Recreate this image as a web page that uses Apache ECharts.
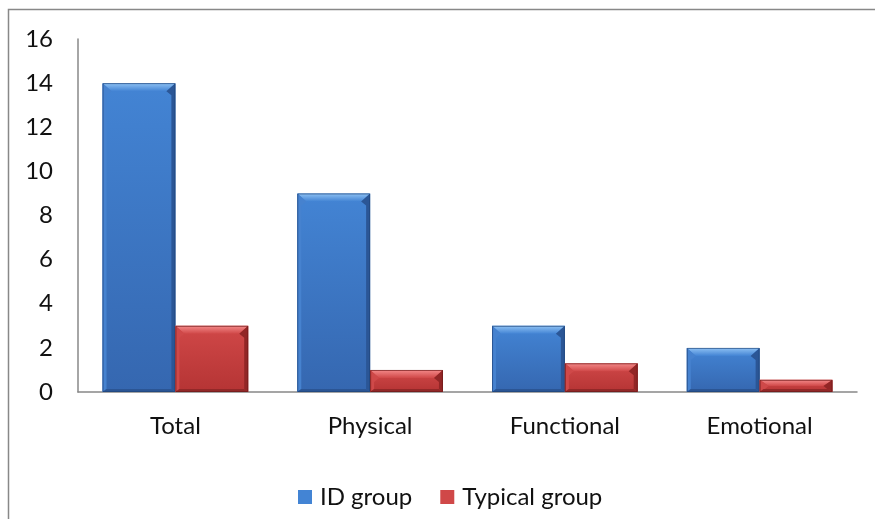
<!DOCTYPE html>
<html>
<head>
<meta charset="utf-8">
<script src="https://cdn.jsdelivr.net/npm/echarts@6/dist/echarts.min.js"></script>
<style>
  html, body { margin: 0; padding: 0; background: #fff; }
  #chart { width: 875px; height: 519px; }
</style>
</head>
<body>
<div id="chart"></div>
<script>
// Categories and values for each group
var categories = ['Total', 'Physical', 'Functional', 'Emotional'];
var idGroup = [14, 9, 3, 2];
var typicalGroup = [3, 1, 1.3, 0.55];
var yTicks = [0, 2, 4, 6, 8, 10, 12, 14, 16];

var FONT = 'Lato';
var TEXT_SIZE = 24;

// Bevelled bar palette: body, light top facet, side and bottom shades
var palettes = [
  { body: '#3567b0', light: '#4384d4', top: '#8fc2f4', left: '#4682cf', right: '#2b5696', bottom: '#2b5594', edge: '#1f447a' },
  { body: '#b53434', light: '#d04848', top: '#f48a8a', left: '#cf4949', right: '#922626', bottom: '#922828', edge: '#6e1a1a' }
];

function bevelBar(seriesIndex) {
  return function (params, api) {
    var catIdx = api.value(0);
    var val = api.value(1);
    var center = api.coord([catIdx, 0]);
    var topPt = api.coord([catIdx, val]);
    var band = api.size([1, 0])[0];
    var w = band * 0.374;
    var x0 = seriesIndex === 0 ? center[0] - w : center[0];
    var x1 = x0 + w;
    var y0 = topPt[1];
    var y1 = center[1];
    var h = y1 - y0;
    var p = palettes[seriesIndex];
    var bx = Math.min(9, w / 2);
    var by = Math.min(8, h / 2);
    var bb = Math.min(3, h / 4);
    var sx = Math.min(4, w / 4);
    return {
      type: 'group',
      children: [
        { type: 'rect', shape: { x: x0, y: y0, width: w, height: h },
          style: { fill: new echarts.graphic.LinearGradient(0, 0, 0, 1, [
            { offset: 0, color: p.light }, { offset: 1, color: p.body }
          ]) } },
        // top facet
        { type: 'polygon', shape: { points: [[x0, y0], [x1, y0], [x1 - bx, y0 + by], [x0 + bx, y0 + by]] },
          style: { fill: new echarts.graphic.LinearGradient(0, 0, 0, 1, [
            { offset: 0, color: p.top }, { offset: 1, color: p.light }
          ]) } },
        // left facet
        { type: 'polygon', shape: { points: [[x0, y0], [x0 + bx, y0 + by], [x0 + sx, y0 + by + 4], [x0 + sx, y1 - bb], [x0, y1]] },
          style: { fill: p.left } },
        // right facet
        { type: 'polygon', shape: { points: [[x1, y0], [x1, y1], [x1 - sx, y1 - bb], [x1 - sx, y0 + by + 4], [x1 - bx, y0 + by]] },
          style: { fill: p.right } },
        // bottom facet
        { type: 'polygon', shape: { points: [[x0, y1], [x0 + sx, y1 - bb], [x1 - sx, y1 - bb], [x1, y1]] },
          style: { fill: p.bottom } },
        // outline
        { type: 'rect', shape: { x: x0 + 0.5, y: y0 + 0.5, width: w - 1, height: h - 1 },
          style: { fill: 'none', stroke: p.edge, lineWidth: 1, opacity: 0.7 } }
      ]
    };
  };
}

function seriesData(values) {
  return values.map(function (v, i) { return [i, v]; });
}

var chart = echarts.init(document.getElementById('chart'), null, { renderer: 'canvas' });
chart.setOption({
  animation: false,
  backgroundColor: '#ffffff',
  textStyle: { fontFamily: FONT },
  graphic: [{
    type: 'rect', z: -10,
    shape: { x: 8.5, y: 9.5, width: 1000, height: 1000 },
    style: { fill: 'none', stroke: '#888888', lineWidth: 1.5 }
  }],
  grid: { left: 78, right: 18, top: 39, bottom: 127, containLabel: false },
  legend: {
    top: 480, left: 293,
    itemWidth: 14, itemHeight: 14, itemGap: 28,
    icon: 'rect',
    textStyle: { fontFamily: FONT, fontSize: TEXT_SIZE, color: '#111', padding: [0, 0, 0, 3] },
    data: ['ID group', 'Typical group']
  },
  xAxis: {
    type: 'category',
    data: categories,
    axisLine: { show: true, lineStyle: { color: '#888888', width: 1.5 } },
    axisTick: { show: false },
    axisLabel: { fontFamily: FONT, fontSize: TEXT_SIZE, color: '#111', margin: 22 }
  },
  yAxis: {
    type: 'value',
    min: yTicks[0], max: yTicks[yTicks.length - 1], interval: 2,
    axisLine: { show: true, lineStyle: { color: '#888888', width: 1.5 } },
    axisTick: { show: false },
    splitLine: { show: false },
    axisLabel: { fontFamily: FONT, fontSize: TEXT_SIZE, color: '#111', margin: 25 }
  },
  series: [
    { name: 'ID group', type: 'custom', renderItem: bevelBar(0),
      itemStyle: { color: palettes[0].light },
      encode: { x: 0, y: 1 }, data: seriesData(idGroup) },
    { name: 'Typical group', type: 'custom', renderItem: bevelBar(1),
      itemStyle: { color: palettes[1].light },
      encode: { x: 0, y: 1 }, data: seriesData(typicalGroup) }
  ]
});
</script>
</body>
</html>
